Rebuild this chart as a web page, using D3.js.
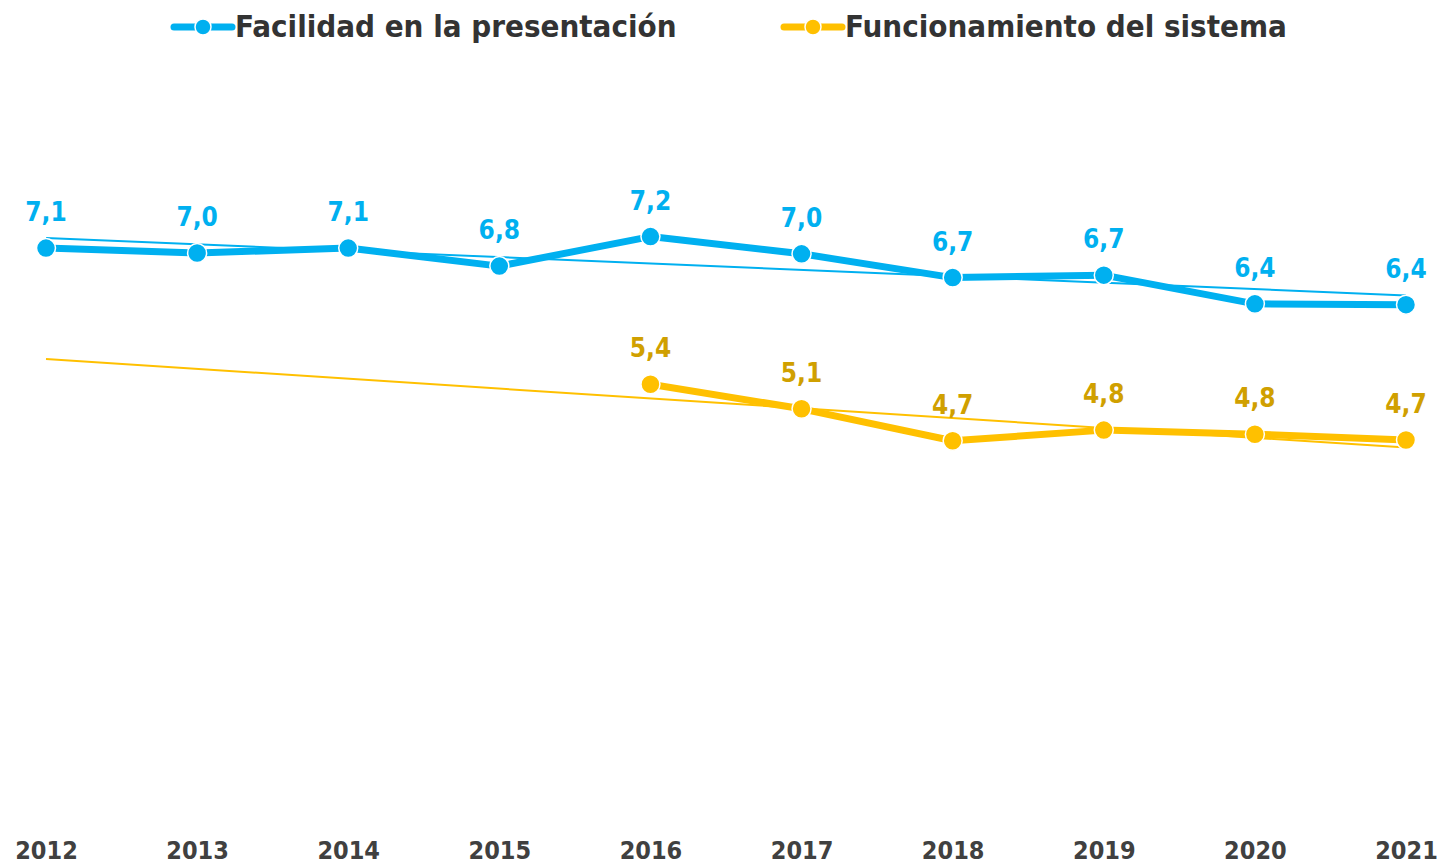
<!DOCTYPE html>
<html>
<head>
<meta charset="utf-8">
<script src="https://cdn.jsdelivr.net/npm/d3@7"></script>
<style>
  body { margin: 0; background: #fff; }
  text { font-family: "DejaVu Sans Condensed", "DejaVu Sans", sans-serif; font-weight: bold; }
</style>
</head>
<body>
<div id="chart"></div>
<script>
let years = ["2012", "2013", "2014", "2015", "2016", "2017", "2018", "2019", "2020", "2021"];
let facilidad = [7.06, 7.00, 7.06, 6.84, 7.20, 6.99, 6.70, 6.73, 6.38, 6.37];
let funcionamiento = [null, null, null, null, 5.40, 5.10, 4.71, 4.84, 4.79, 4.72];
let seriesNames = ["Facilidad en la presentación", "Funcionamiento del sistema"];

let width = 1440, height = 864;

let svg = d3.select('#chart')
    .append('svg')
    .attr("width", width)
    .attr("height", height);

let xScale = d3.scalePoint()
    .domain(years)
    .range([46, 1406]);

let yScale = d3.scaleLinear()
    .domain([0, 10])
    .range([827, 7]);

let fmt = function (v) {
    return d3.format(".1f")(v).replace(".", ",");
};

// linear trend over the defined points, drawn across all categories
function trend(values) {
    let pts = values.map(function (v, i) { return [i, v]; })
        .filter(function (d) { return d[1] != null; });
    let mx = d3.mean(pts, function (d) { return d[0]; });
    let my = d3.mean(pts, function (d) { return d[1]; });
    let sxy = d3.sum(pts, function (d) { return (d[0] - mx) * (d[1] - my); });
    let sxx = d3.sum(pts, function (d) { return (d[0] - mx) * (d[0] - mx); });
    let b = sxy / sxx, a = my - b * mx;
    return [[0, a], [values.length - 1, a + b * (values.length - 1)]];
}

let series = [
    {name: seriesNames[0], values: facilidad, color: "#00B0F0", labelColor: "#00B0F0", trendColor: "#00B0F0"},
    {name: seriesNames[1], values: funcionamiento, color: "#FFC000", labelColor: "#D0A000", trendColor: "#FFC000"}
];

let line = d3.line()
    .defined(function (d) { return d != null; })
    .x(function (d, i) { return xScale(years[i]); })
    .y(function (d) { return yScale(d); });

// x axis, labels only
let xAxis = svg.append('g')
    .attr("transform", "translate(0,841)")
    .call(d3.axisBottom(xScale).tickSize(0).tickPadding(0));
xAxis.select('.domain').remove();
xAxis.selectAll('text')
    .attr('dy', '0.71em')
    .style('font-family', '"DejaVu Sans Condensed", "DejaVu Sans", sans-serif')
    .style('font-weight', 'bold')
    .style('font-size', '25px')
    .attr('fill', '#404040');

series.forEach(function (s) {
    let t = trend(s.values);
    svg.append('line')
        .attr('x1', xScale(years[t[0][0]]))
        .attr('y1', yScale(t[0][1]))
        .attr('x2', xScale(years[t[1][0]]))
        .attr('y2', yScale(t[1][1]))
        .attr('stroke', s.trendColor)
        .attr('stroke-width', 2);
});

series.forEach(function (s) {
    svg.append('path')
        .attr('d', line(s.values))
        .attr('fill', 'none')
        .attr('stroke', s.color)
        .attr('stroke-width', 7)
        .attr('stroke-linejoin', 'round');

    let pts = s.values.map(function (v, i) { return {year: years[i], value: v}; })
        .filter(function (d) { return d.value != null; });

    svg.append('g').selectAll('circle')
        .data(pts)
        .enter()
        .append('circle')
        .attr('cx', function (d) { return xScale(d.year); })
        .attr('cy', function (d) { return yScale(d.value); })
        .attr('r', 9.5)
        .attr('fill', s.color)
        .attr('stroke', '#fff')
        .attr('stroke-width', 1.5);

    svg.append('g').selectAll('text')
        .data(pts)
        .enter()
        .append('text')
        .attr('x', function (d) { return xScale(d.year); })
        .attr('y', function (d) { return yScale(d.value) - 27; })
        .attr('text-anchor', 'middle')
        .attr('font-size', 26)
        .attr('fill', s.labelColor)
        .text(function (d) { return fmt(d.value); });
});

// legend
let legendX = [174, 784];
series.forEach(function (s, i) {
    let g = svg.append('g').attr("transform", "translate(" + legendX[i] + ",27)");
    g.append('line')
        .attr('x1', 0).attr('x2', 58)
        .attr('stroke', s.color)
        .attr('stroke-width', 7)
        .attr('stroke-linecap', 'round');
    g.append('circle')
        .attr('cx', 29)
        .attr('r', 8)
        .attr('fill', s.color)
        .attr('stroke', '#fff')
        .attr('stroke-width', 1.5);
    g.append('text')
        .attr('x', 61)
        .attr('y', 10)
        .attr('font-size', 31)
        .attr('fill', '#333333')
        .text(s.name);
});
</script>
</body>
</html>
